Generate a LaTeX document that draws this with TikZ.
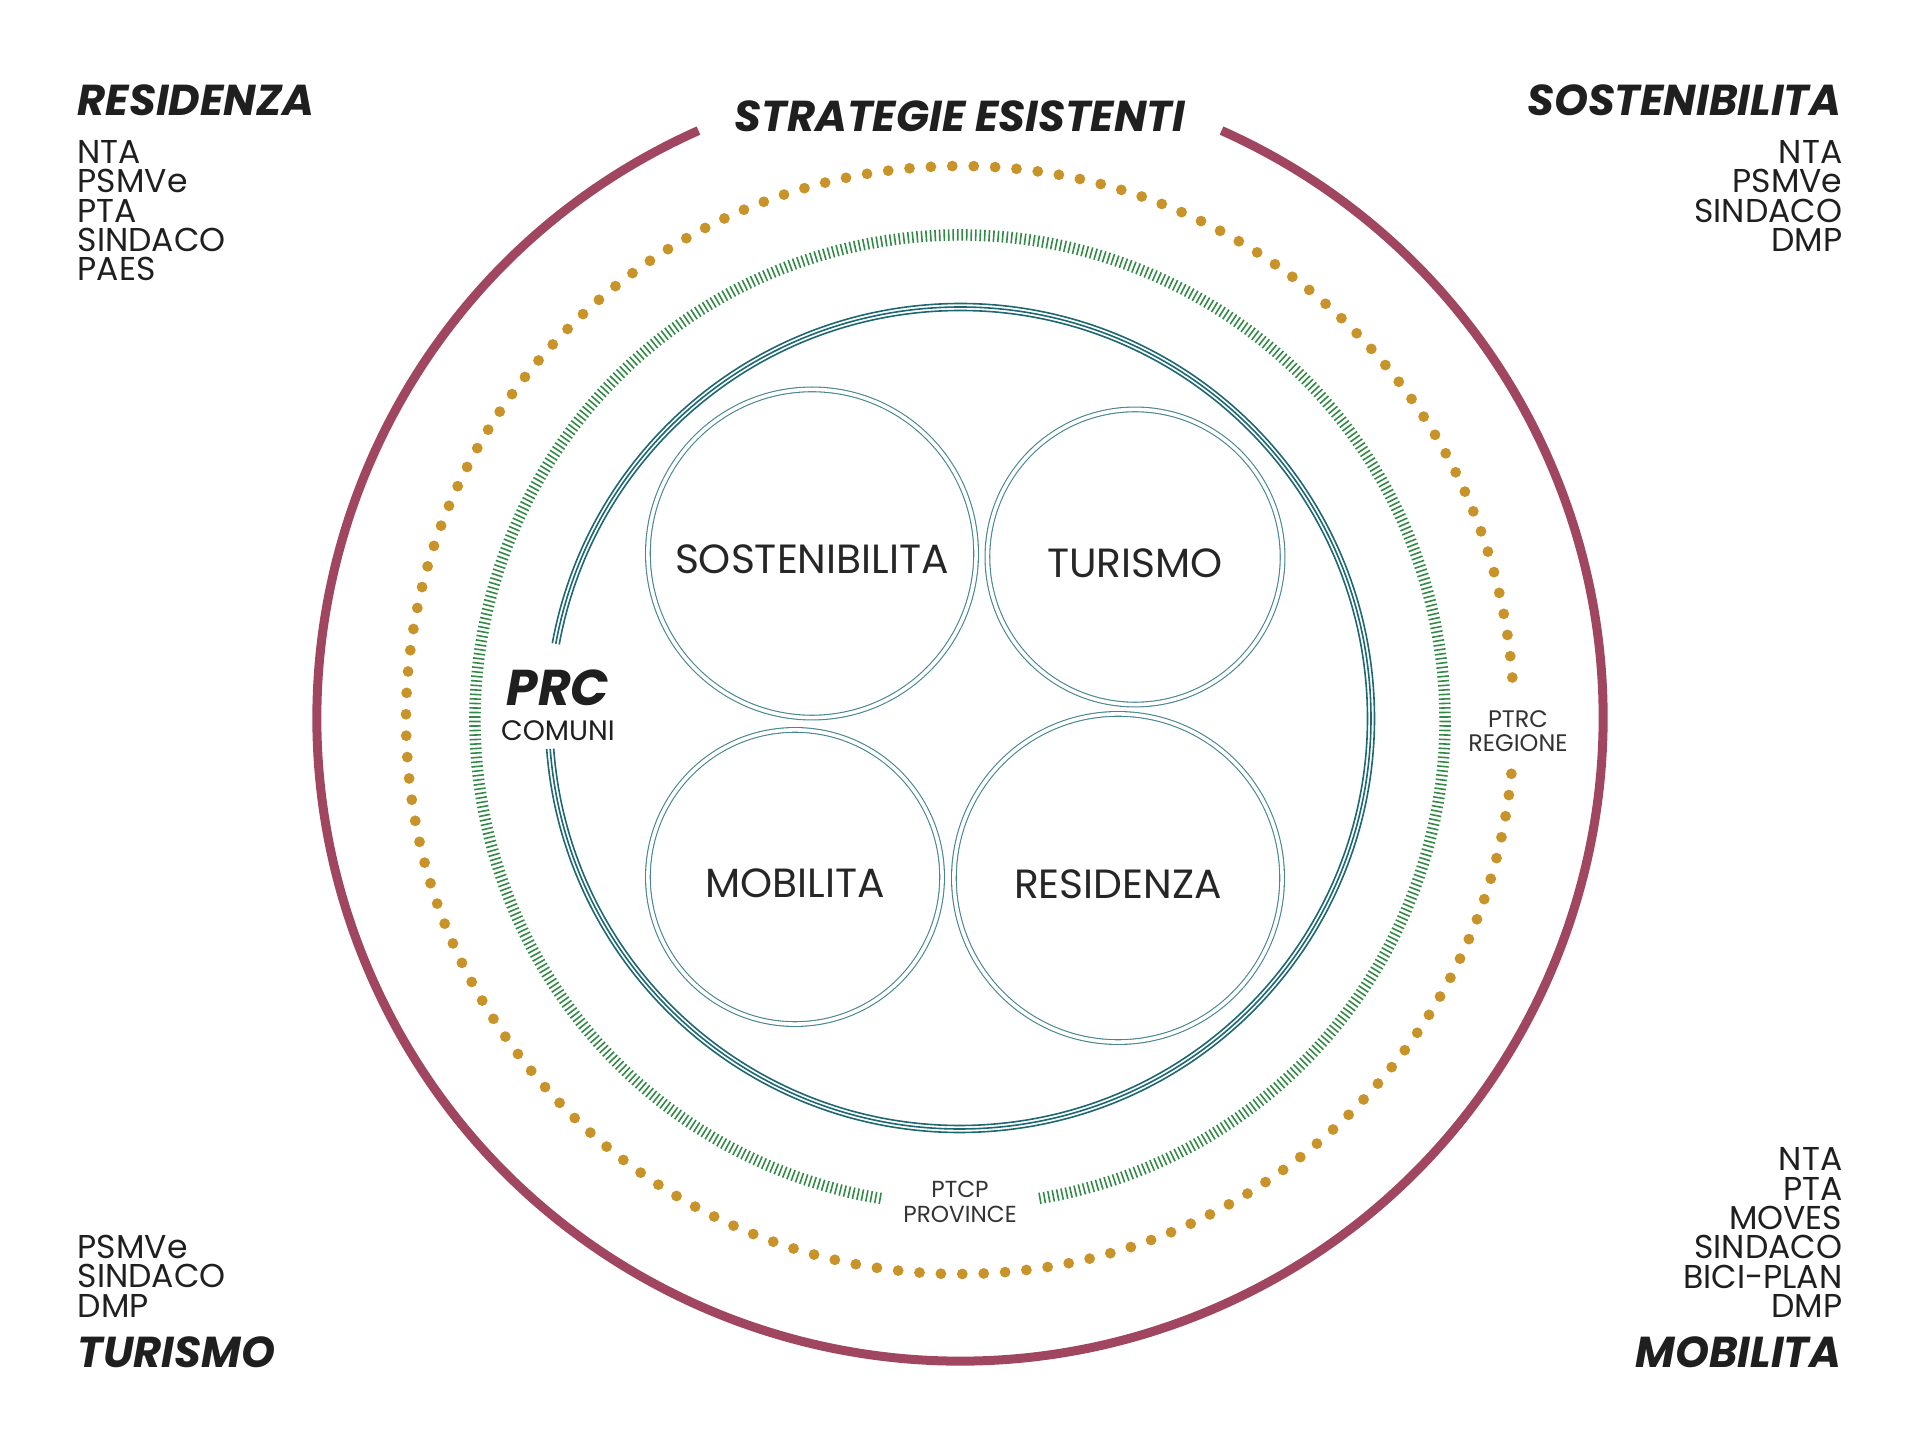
\documentclass[tikz,border=0pt]{standalone}
\usepackage{fontspec}
\setmainfont{Poppins}
\usetikzlibrary{positioning}
\definecolor{ringred}{RGB}{160,70,96}
\definecolor{dotgold}{RGB}{200,148,42}
\definecolor{tickgreen}{RGB}{50,138,70}
\definecolor{tealdark}{RGB}{30,104,114}
\definecolor{teallight}{RGB}{70,134,142}
\tikzset{
  theme/.style={circle, draw=teallight, line width=0.011cm, double=white, double distance=0.036cm,
    inner sep=0pt, text height=11.6pt, text depth=0pt, font=\fontsize{11.6}{13}\selectfont, text=black!85},
  heading/.style={inner sep=0pt, font=\fontsize{12.3}{14}\selectfont\bfseries\itshape, text=black!88},
  doclist/.style={inner sep=0pt, font=\fontsize{9.4}{8.36}\selectfont, text=black!88},
  tinylabel/.style={inner sep=0pt, align=center, text=black!80},
}

\begin{document}
\begin{tikzpicture}[x=0.01cm, y=0.01cm]
  \useasboundingbox (0,0) rectangle (1920,-1440);
  \coordinate (c) at (960,-718);
  \coordinate (c2) at (960,-720);
  % rings round the centre
  \draw[ringred, line width=0.09cm] ([shift={(114:643)}]c) arc[start angle=114, end angle=426, radius=643];
  \draw[dotgold, line width=0.108cm, line cap=round, dash pattern=on 0pt off 0.2141cm]
    ([shift={(4.4:554)}]c2) arc[start angle=4.4, end angle=354.5, radius=554];
  \draw[tickgreen, line width=0.115cm, dash pattern=on 0.016cm off 0.029cm]
    ([shift={(-80.6:485)}]c2) arc[start angle=-80.6, end angle=260.7, radius=485];
  \foreach \r in {407.5,411,414.5}
    \draw[tealdark, line width=0.016cm] ([shift={(184.3:\r)}]c) arc[start angle=184.3, end angle=529.6, radius=\r];
  \node[heading] (title) at (960,-116) {STRATEGIE ESISTENTI};
  % the four themes
  \node[theme, minimum size=3.28cm] (sost) at (812,-553.5) {SOSTENIBILITA};
  \node[theme, minimum size=2.95cm] (turismo) at (1135,-557) {TURISMO};
  \node[theme, minimum size=2.94cm] (mobilita) at (795,-877) {MOBILITA};
  \node[theme, minimum size=3.28cm] (residenza) at (1118,-878) {RESIDENZA};
  % ring labels
  \node[heading, font=\fontsize{14.3}{16}\selectfont\bfseries\itshape] (prc) at (558,-688) {PRC};
  \node[doclist, font=\fontsize{8}{9}\selectfont, below=0.13cm of prc] (comuni) {COMUNI};
  \node[tinylabel, font=\fontsize{6.8}{6.9}\selectfont] (ptrc) at (1518,-731) {PTRC\\REGIONE};
  \node[tinylabel, font=\fontsize{6.6}{7.3}\selectfont] (ptcp) at (960,-1202) {PTCP\\PROVINCE};
  % corner lists
  \node[heading, anchor=base west] (hres) at (77,-116) {RESIDENZA};
  \node[doclist, align=left, anchor=north west] (resdocs) at (77,-139.5) {NTA\\PSMVe\\PTA\\SINDACO\\PAES};
  \node[heading, anchor=base east] (hsost) at (1842,-116) {SOSTENIBILITA};
  \node[doclist, align=right, anchor=north east] (sostdocs) at (1843,-139.5) {NTA\\PSMVe\\SINDACO\\DMP};
  \node[doclist, align=left, anchor=north west] (turdocs) at (77,-1234.5) {PSMVe\\SINDACO\\DMP};
  \node[heading, anchor=base west] (htur) at (77,-1367) {TURISMO};
  \node[doclist, align=right, anchor=north east] (mobdocs) at (1843,-1147) {NTA\\PTA\\MOVES\\SINDACO\\BICI-PLAN\\DMP};
  \node[heading, anchor=base east] (hmob) at (1842,-1367) {MOBILITA};
\end{tikzpicture}
\end{document}
